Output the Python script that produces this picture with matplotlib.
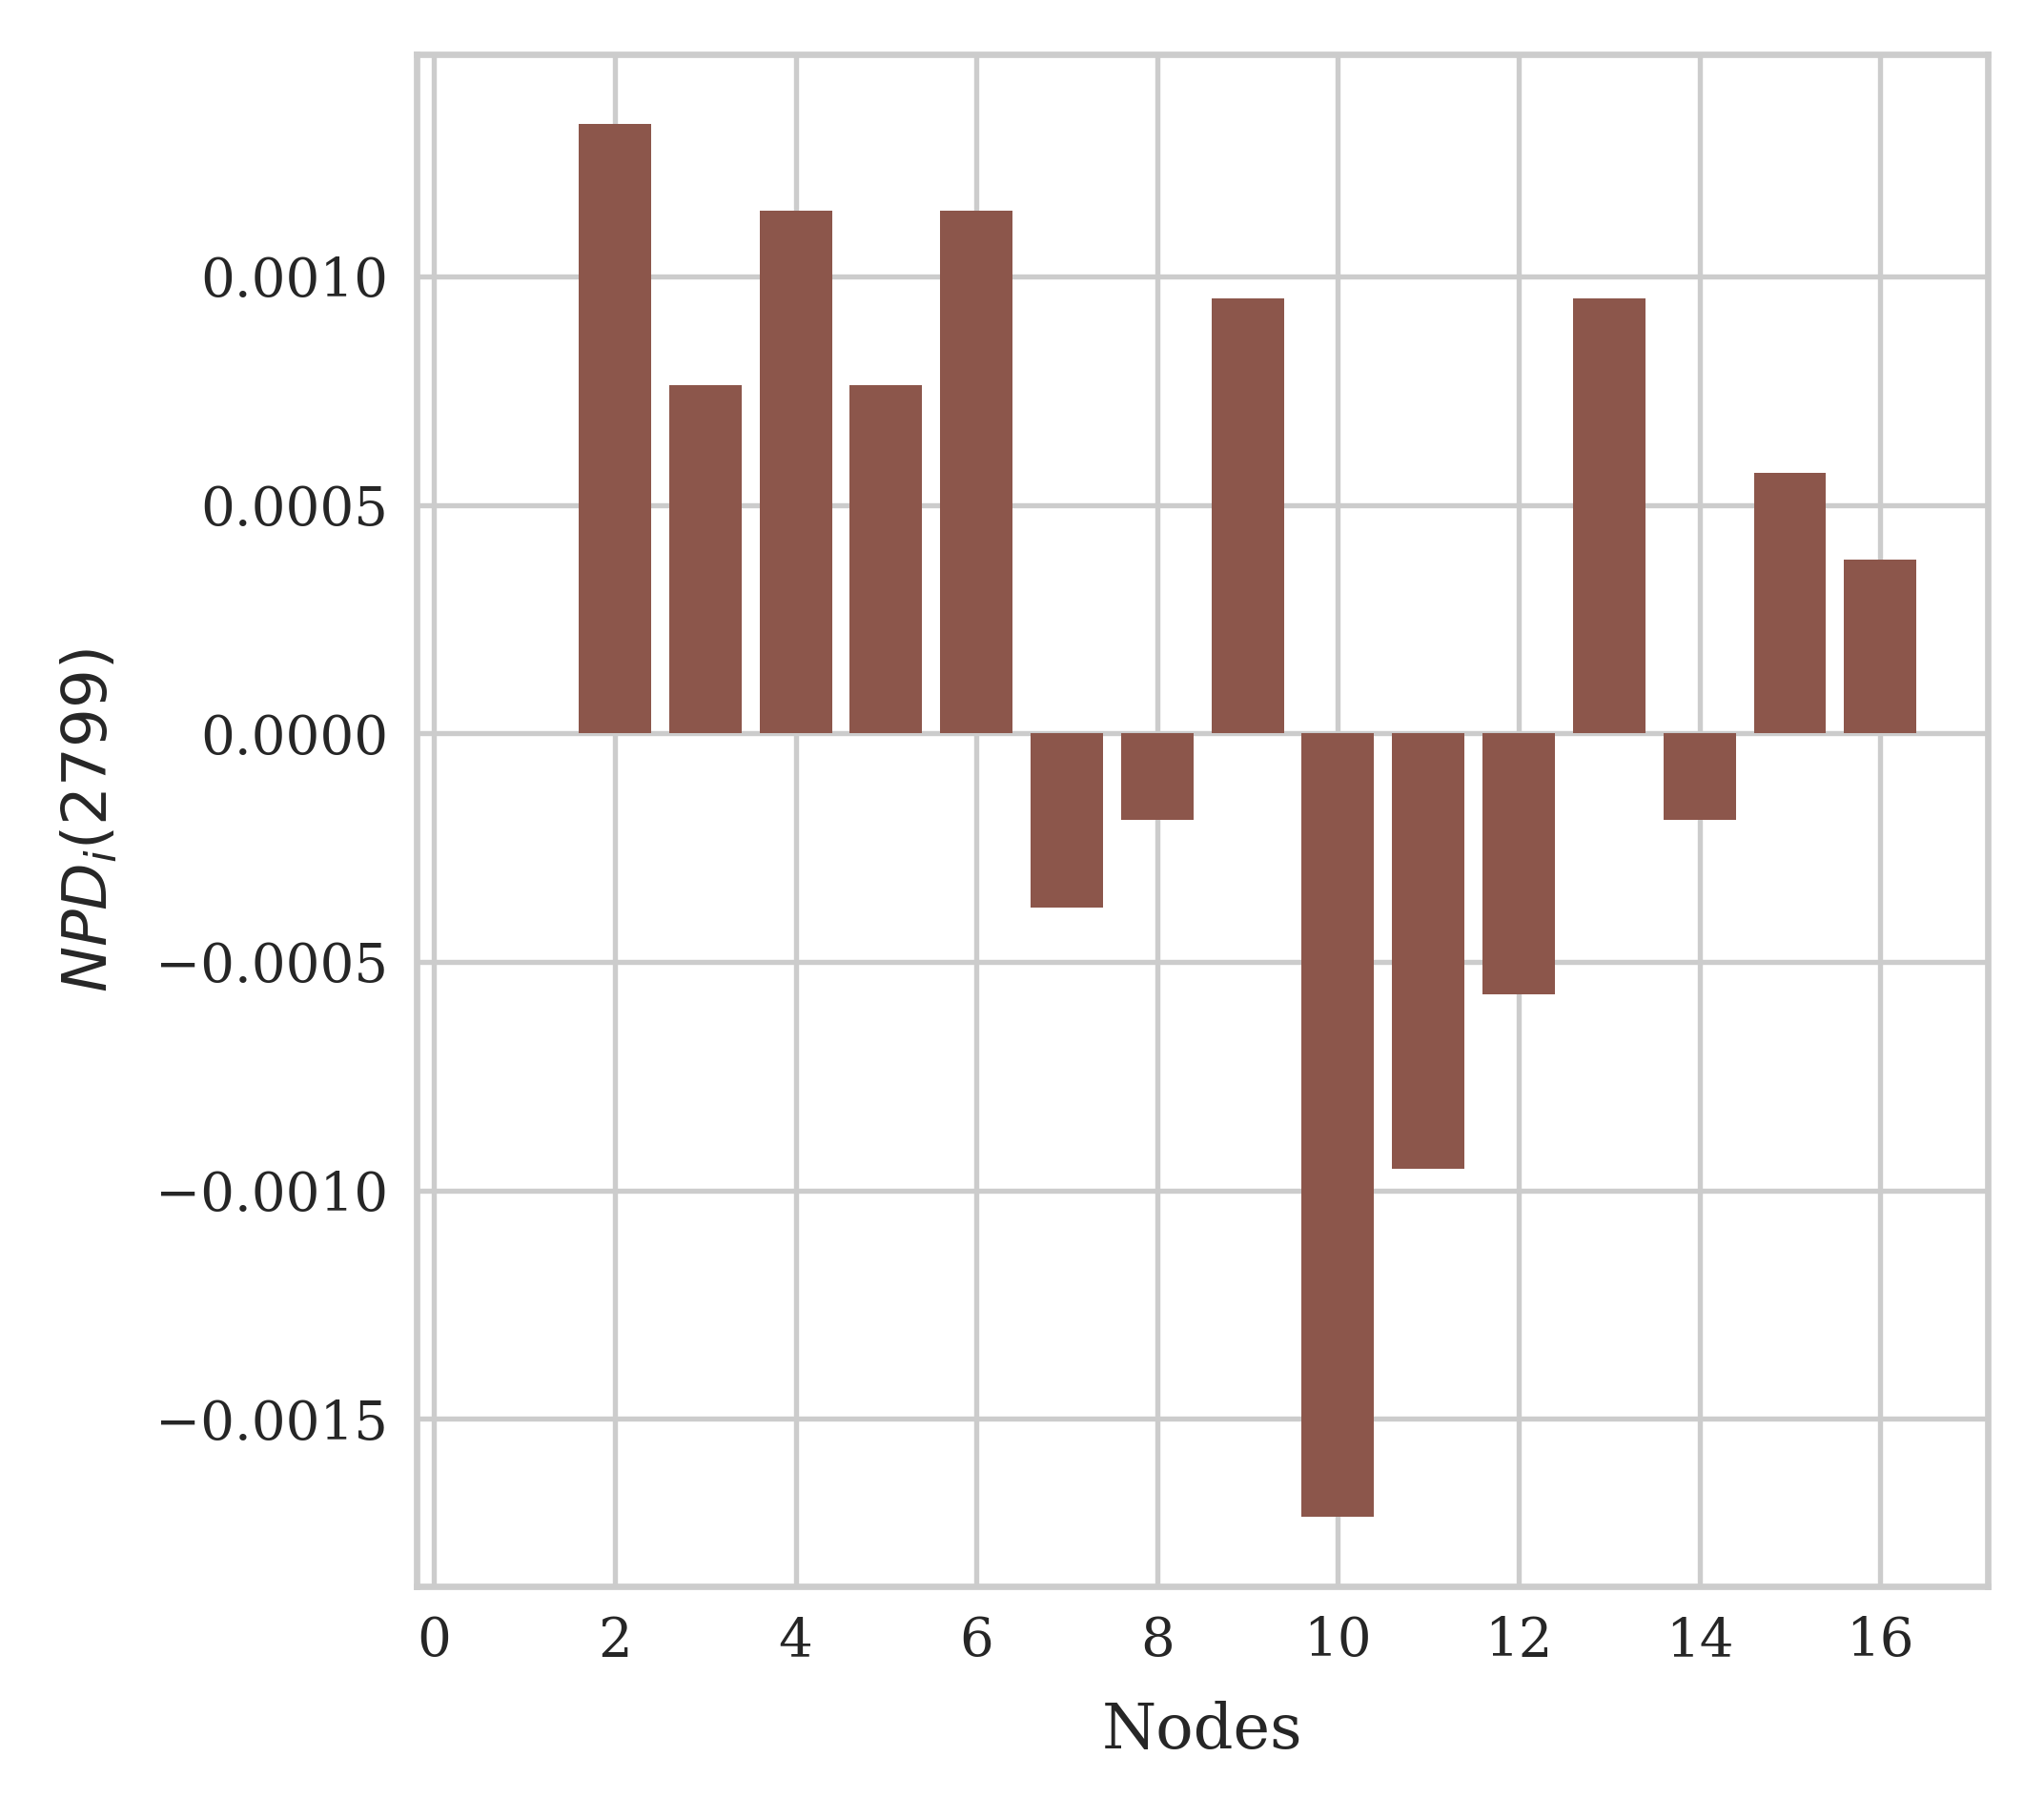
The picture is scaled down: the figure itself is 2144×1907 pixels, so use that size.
import matplotlib
matplotlib.use("Agg")
import matplotlib.pyplot as plt
import seaborn as sns

nodes = [1, 2, 3, 4, 5, 6, 7, 8, 9, 10, 11, 12, 13, 14, 15, 16]
npd = [0.0, 0.001333, 0.000762, 0.001143, 0.000762, 0.001143, -0.000381, -0.000190,
       0.000952, -0.001714, -0.000952, -0.000571, 0.000952, -0.000190, 0.000571, 0.000381]

sns.set_theme(style="whitegrid", context="notebook")
plt.rcParams['font.family'] = ['DejaVu Serif']

DPI = 386
fig = plt.figure(figsize=(2144 / DPI, 1907 / DPI), dpi=DPI)
ax = fig.add_axes([0.204, 0.1274, 0.9725 - 0.204, 0.970 - 0.1274])
ax.bar(nodes, npd, color="#8c564b", width=0.8, linewidth=0)
ax.set_xticks([0, 2, 4, 6, 8, 10, 12, 14, 16])
ax.tick_params(axis='both', length=0, pad=5.6, labelsize=10.5)
ax.set_xlabel("Nodes", fontsize=12.2, labelpad=6.5)
ax.set_ylabel(r"$NPD_i(2799)$", fontsize=12, labelpad=7)
fig.savefig("out.png", dpi=DPI)
